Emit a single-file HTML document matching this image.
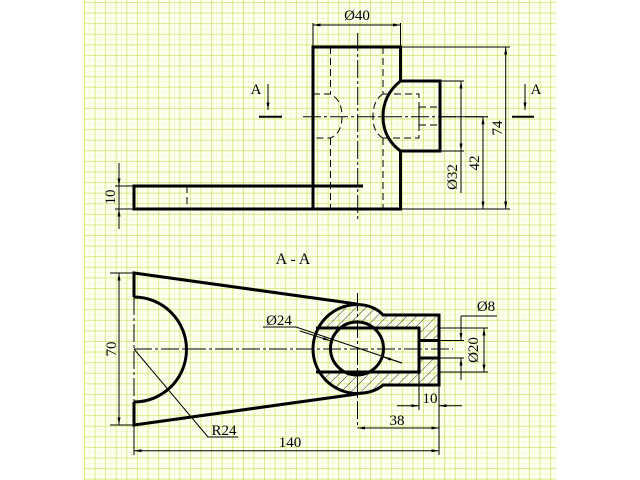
<!DOCTYPE html>
<html><head><meta charset="utf-8"><style>
html,body{margin:0;padding:0;background:#fff;}
#g{position:absolute;left:84px;top:0;width:472px;height:480px;background-color:#fffff2;
background-image:
linear-gradient(to right, rgba(205,228,100,.7) 1px, transparent 1px),
linear-gradient(to bottom, rgba(205,228,100,.7) 1px, transparent 1px),
linear-gradient(to right, rgba(230,242,170,.35) 1px, transparent 1px),
linear-gradient(to bottom, rgba(230,242,170,.35) 1px, transparent 1px);
background-size:10.6px 10.6px,10.6px 10.6px,5.3px 5.3px,5.3px 5.3px;
background-position:0 2px,0 2px,0 2px,0 2px;}
svg{position:absolute;left:0;top:0;}
text{font-family:"Liberation Serif",serif;font-size:15px;fill:#000;}
</style></head><body>
<div id="g"></div>
<svg width="640" height="480" viewBox="0 0 640 480">
<defs>
<marker id="a" viewBox="0 0 10 4" refX="10" refY="2" markerWidth="8" markerHeight="3" orient="auto-start-reverse" markerUnits="userSpaceOnUse"><path d="M0,0L10,2L0,4z"/></marker>
<pattern id="h" width="7" height="7" patternUnits="userSpaceOnUse" patternTransform="rotate(45)"><line x1="0" y1="0" x2="0" y2="7" stroke="#000" stroke-width="0.8"/></pattern>
<mask id="m">
<path d="M357.5,304.5 A44.5,44.5 0 1 0 357.5,393.5 Q374,393 383,385 L439,385 L439,315 L383,315 Q374,305 357.5,304.5Z" fill="#fff"/>
<circle cx="357" cy="348.5" r="26.5" fill="#000"/>
<rect x="300" y="328" width="119" height="44" fill="#000"/>
<rect x="410" y="340.5" width="40" height="18" fill="#000"/>
</mask>
</defs>
<g fill="none" stroke="#000">
<g stroke-width="3">
<path d="M313,209 L313,47 L400.5,47 L400.5,81 Q383,95 383,116.5 Q383,138 400.5,151 L400.5,209 Z"/>
<path d="M400.5,81 L440,81 L440,151 L400.5,151"/>
<path d="M313,209 L134,209 L134,186 L363,186"/>
</g>
<g stroke-width="1" stroke-dasharray="7,4">
<path d="M330.5,47 V94 M330.5,138 V209 M383,47 V94 M383,138 V209"/>
<path d="M313,94 H330.5 Q342,100 342,116.5 Q342,133 330.5,138 H313"/>
<path d="M383,94 Q373,100 373,116.5 Q373,133 383,138"/>
<path d="M383,94 H419 V138 H383 M419,107 H440 M419,125 H440 M419,107 V125"/>
<path d="M187,186 V209"/>
</g>
<g stroke-width="1" stroke-dasharray="18,3,3,3">
<path d="M357.7,33 V222 M303,116.7 H488"/>
</g>
<g stroke-width="1">
<path d="M313,23 V47 M400.5,23 V47"/>
<path d="M313,25 H400.5" marker-start="url(#a)" marker-end="url(#a)"/>
<path d="M400.5,47 H510 M400.5,209 H510"/>
<path d="M505.7,47 V209" marker-start="url(#a)" marker-end="url(#a)"/>
<path d="M440,116.7 H488"/>
<path d="M483,116.7 V209" marker-start="url(#a)" marker-end="url(#a)"/>
<path d="M440,81 H464 M440,151 H464"/>
<path d="M461,81 V151" marker-start="url(#a)" marker-end="url(#a)"/>
<path d="M461,151 V193"/>
<path d="M119,163 V186" marker-end="url(#a)"/><path d="M119,229 V209" marker-end="url(#a)"/>
<path d="M119,186 V209 M115,186 H134 M115,209 H134"/>
<path d="M268,84 V110" marker-end="url(#a)"/><path d="M259,116.7 H282" stroke-width="2"/>
<path d="M525,84 V110" marker-end="url(#a)"/><path d="M512,116.7 H534" stroke-width="2"/>
</g>
<rect x="300" y="300" width="145" height="100" fill="url(#h)" stroke="none" mask="url(#m)"/>
<g stroke-width="3">
<path d="M134,297 V273 L357,304 M134,402 V425 L357,394"/>
<path d="M134,297 A52.5,52.5 0 0 1 134,402"/>
<path d="M357.5,304.5 A44.5,44.5 0 1 0 357.5,393.5 Q374,393 383,385 L439,385 L439,315 L383,315 Q374,305 357.5,304.5Z"/>
<circle cx="357" cy="348.5" r="26.5"/>
<path d="M316,328 H419 V372 H316 M419,340.5 H439 M419,358 H439"/>
</g>
<g stroke-width="1" stroke-dasharray="18,3,3,3">
<path d="M134,297 V402"/>
<path d="M134,349 H453 M357.5,293 V428"/>
</g>
<g stroke-width="1">
<path d="M110,273 H134 M110,425 H134"/>
<path d="M119,273 V425" marker-start="url(#a)" marker-end="url(#a)"/>
<path d="M134,425 V455 M439,385 V455"/>
<path d="M134,450.7 H439" marker-start="url(#a)" marker-end="url(#a)"/>
<path d="M357.5,428 H439" marker-start="url(#a)" marker-end="url(#a)"/>
<path d="M419,372 V410"/>
<path d="M397,405.7 H419" marker-end="url(#a)"/><path d="M462,405.7 H439" marker-end="url(#a)"/>
<path d="M134,349 L208,437 H238"/>
<path d="M263,327 H296 L402,363"/>
<path d="M300,331 L330.5,340.8" marker-end="url(#a)"/>
<path d="M402,363 L383.5,357" marker-end="url(#a)"/>
<path d="M439,340.5 H464 M439,358 H464"/>
<path d="M461,316 V340.5" marker-end="url(#a)"/><path d="M461,380 V358" marker-end="url(#a)"/>
<path d="M461,316 H497"/>
<path d="M439,328 H488 M439,372 H488"/>
<path d="M484,328 V372" marker-start="url(#a)" marker-end="url(#a)"/>
</g>
</g>
<text x="357" y="20" text-anchor="middle">Ø40</text>
<text x="256" y="94" text-anchor="middle">A</text>
<text x="536" y="94" text-anchor="middle">A</text>
<text transform="translate(502,128) rotate(-90)" text-anchor="middle">74</text>
<text transform="translate(479,163) rotate(-90)" text-anchor="middle">42</text>
<text transform="translate(457,177) rotate(-90)" text-anchor="middle">Ø32</text>
<text transform="translate(115,197) rotate(-90)" text-anchor="middle">10</text>
<text x="293" y="264" text-anchor="middle" style="font-size:16px">A - A</text>
<text transform="translate(116,349) rotate(-90)" text-anchor="middle">70</text>
<text x="279" y="325" text-anchor="middle">Ø24</text>
<text x="224" y="435" text-anchor="middle">R24</text>
<text x="290" y="447" text-anchor="middle">140</text>
<text x="397" y="425" text-anchor="middle">38</text>
<text x="430" y="403" text-anchor="middle">10</text>
<text x="486" y="311" text-anchor="middle">Ø8</text>
<text transform="translate(478,350) rotate(-90)" text-anchor="middle">Ø20</text>
</svg>
</body></html>
